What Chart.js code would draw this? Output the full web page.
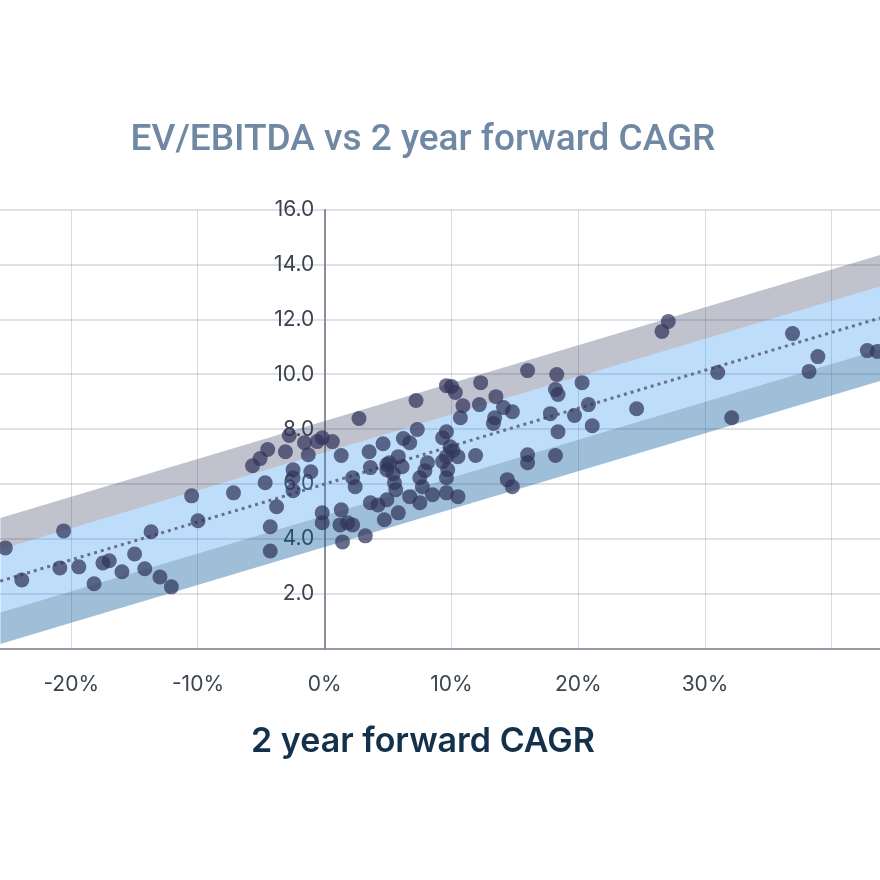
<!DOCTYPE html>
<html>
<head>
<meta charset="utf-8">
<script src="https://cdn.jsdelivr.net/npm/chart.js@4.4.1/dist/chart.umd.min.js"></script>
<style>
  html, body { margin: 0; padding: 0; background: #fff; overflow: hidden; }
  #wrap { position: absolute; left: -34px; top: 0; width: 914px; height: 880px; }
</style>
</head>
<body>
<div id="wrap"><canvas id="chart"></canvas></div>
<script>
// 2 year forward CAGR (%) and EV/EBITDA, one entry per company
const cagr = [
  -25.2, -23.9, -20.6, -20.9, -19.4, -18.2, -17.5, -17.0, -16.0, -15.0,
  -14.2, -13.7, -13.0, -12.1, -10.5, -10.0, -7.2, -5.7, -5.1, -4.5,
  -3.1, -4.7, -3.8, -4.3, -4.3, -2.8, -1.6, -1.3, -2.5, -1.1,
  -2.5, -2.5, -0.2, -0.2, -0.6, -0.2, 0.6, 2.7, 1.3, 2.2,
  2.4, 3.5, 4.6, 3.6, 4.9, 3.6, 4.2, 4.9, 4.7, 1.3,
  1.2, 1.8, 2.2, 1.4, 3.2, 16.0, 9.6, 10.0, 10.3, 12.3,
  7.2, 13.5, 10.9, 12.2, 10.7, 14.1, 14.8, 13.4, 13.3, 7.3,
  9.6, 9.3, 6.2, 6.7, 9.9, 10.1, 10.5, 9.6, 9.3, 11.9,
  5.8, 5.1, 6.1, 4.9, 8.1, 7.9, 7.5, 7.7, 5.4, 5.5,
  5.6, 9.6, 16.0, 16.0, 14.4, 14.8, 6.7, 7.5, 8.5, 9.6,
  10.5, 5.8, 9.7, 18.3, 20.3, 18.2, 18.4, 20.8, 17.8, 19.7,
  24.6, 18.4, 21.1, 31.0, 18.2, 26.6, 27.1, 36.9, 38.9, 38.2,
  42.8, 43.6, 32.1
];
const evEbitda = [
  3.67, 2.50, 4.29, 2.94, 2.98, 2.36, 3.12, 3.20, 2.80, 3.45,
  2.91, 4.26, 2.61, 2.25, 5.57, 4.66, 5.68, 6.67, 6.93, 7.26,
  7.18, 6.05, 5.17, 4.44, 3.56, 7.77, 7.51, 7.07, 6.52, 6.45,
  6.23, 5.76, 4.95, 4.59, 7.55, 7.69, 7.55, 8.39, 7.04, 6.23,
  5.90, 7.18, 7.47, 6.60, 6.71, 5.32, 5.24, 5.43, 4.70, 5.06,
  4.51, 4.59, 4.51, 3.89, 4.11, 10.14, 9.59, 9.56, 9.34, 9.70,
  9.05, 9.19, 8.86, 8.90, 8.42, 8.79, 8.64, 8.42, 8.21, 7.99,
  7.91, 7.69, 7.66, 7.51, 7.36, 7.22, 7.00, 7.00, 6.82, 7.04,
  7.00, 6.78, 6.63, 6.52, 6.78, 6.49, 6.23, 5.90, 6.38, 6.05,
  5.79, 6.23, 7.07, 6.78, 6.16, 5.90, 5.54, 5.32, 5.61, 5.68,
  5.54, 4.95, 6.52, 10.00, 9.70, 9.45, 9.27, 8.90, 8.57, 8.50,
  8.75, 7.91, 8.13, 10.07, 7.04, 11.57, 11.93, 11.49, 10.65, 10.11,
  10.87, 10.84, 8.42
];

// trend line and the two bands around it, read at the two ends
const bandX = [-25.6, 43.8];
const trendY = [2.46, 12.06];
const upperOuterY = [4.76, 14.36];
const upperInnerY = [3.61, 13.21];
const lowerInnerY = [1.31, 10.91];
const lowerOuterY = [0.16, 9.76];

const xTickLabels = [-20, -10, 0, 10, 20, 30];
const yTickLabels = [2, 4, 6, 8, 10, 12, 14, 16];

const toPoints = (xs, ys) => xs.map((x, i) => ({ x: x, y: ys[i] }));

function bandLine(ys, color, fill) {
  return {
    type: 'line',
    data: toPoints(bandX, ys),
    borderColor: 'transparent',
    borderWidth: 0,
    pointRadius: 0,
    backgroundColor: color,
    fill: fill,
    order: 3
  };
}

const tickFont = { family: 'Inter', size: 21 };

new Chart(document.getElementById('chart').getContext('2d'), {
  type: 'scatter',
  data: {
    datasets: [
      {
        type: 'scatter',
        data: toPoints(cagr, evEbitda),
        backgroundColor: 'rgba(48,52,90,0.72)',
        borderWidth: 0,
        pointRadius: 7.5,
        order: 0
      },
      {
        type: 'line',
        data: toPoints(bandX, trendY),
        borderColor: '#66708c',
        borderWidth: 3,
        borderDash: [3, 4],
        pointRadius: 0,
        fill: false,
        order: 1
      },
      bandLine(upperOuterY, 'rgba(45,55,92,0.3)', '+1'),
      bandLine(upperInnerY, 'rgba(39,142,238,0.3)', '+1'),
      bandLine(lowerInnerY, 'rgba(15,93,158,0.4)', '+1'),
      bandLine(lowerOuterY, 'transparent', false)
    ]
  },
  options: {
    responsive: true,
    maintainAspectRatio: false,
    animation: false,
    layout: { autoPadding: false, padding: { top: 0, bottom: 231.5, left: 0, right: 0 } },
    plugins: {
      legend: { display: false },
      tooltip: { enabled: false },
      title: {
        display: true,
        text: 'EV/EBITDA vs 2 year forward CAGR',
        color: '#7088a4',
        font: { family: 'Roboto', size: 37, weight: '500' },
        padding: { top: 119, bottom: 46.6 }
      }
    },
    scales: {
      x: {
        type: 'linear',
        position: { y: 0 },
        min: -28.3,
        max: 43.8,
        grid: { color: 'rgba(110,120,140,0.26)', lineWidth: 1, drawTicks: false },
        border: { color: '#959ca6', width: 2 },
        ticks: {
          stepSize: 10,
          includeBounds: false,
          padding: 24,
          color: '#3b4350',
          font: tickFont,
          callback: v => xTickLabels.includes(v) ? v + '%' : ''
        },
        title: {
          display: true,
          text: '2 year forward CAGR',
          color: '#14314b',
          font: { family: 'Inter', size: 34, weight: '600' },
          padding: { top: 0, bottom: 0 }
        }
      },
      y: {
        type: 'linear',
        position: { x: 0 },
        min: 0,
        max: 16,
        grid: { color: 'rgba(110,120,140,0.22)', lineWidth: 2, drawTicks: false },
        border: { color: '#878e98', width: 2 },
        ticks: {
          stepSize: 2,
          color: '#3b4350',
          font: tickFont,
          // en space keeps the label clear of the axis line
          callback: v => yTickLabels.includes(v) ? v.toFixed(1) + '\u2002' : ''
        }
      }
    }
  }
});
</script>
</body>
</html>
